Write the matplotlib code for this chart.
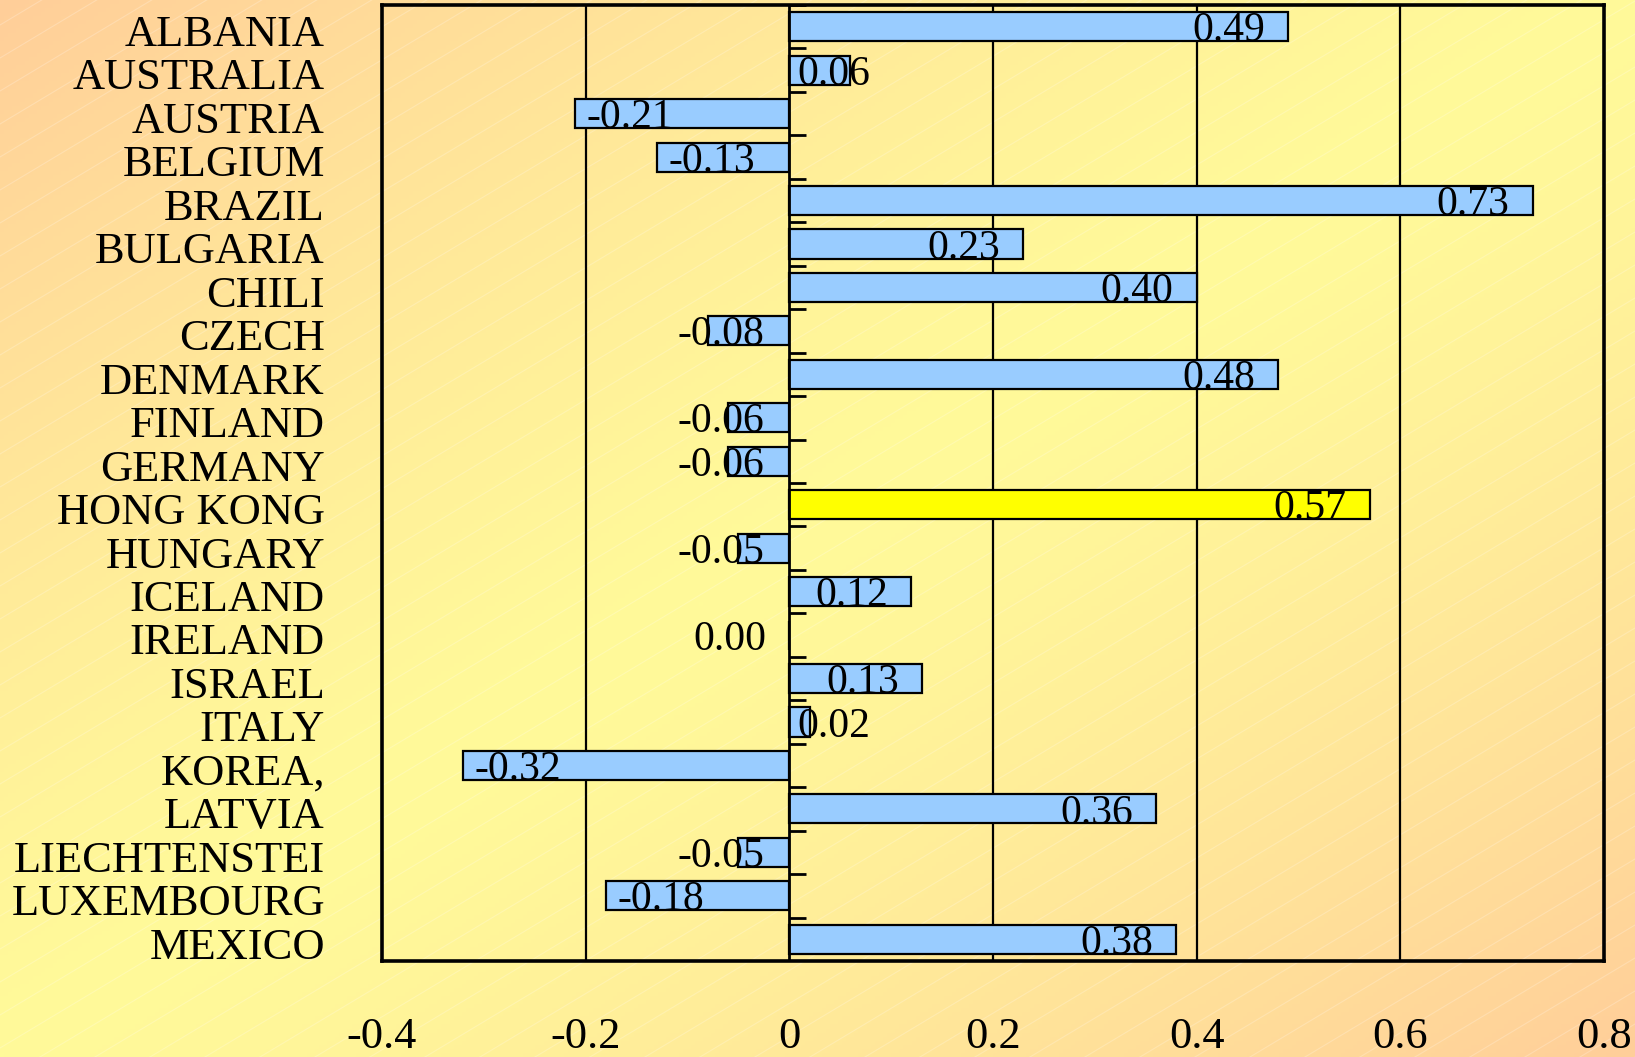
import matplotlib
matplotlib.use("Agg")
import matplotlib.pyplot as plt
from matplotlib.transforms import ScaledTranslation
import numpy as np

countries = ["ALBANIA", "AUSTRALIA", "AUSTRIA", "BELGIUM", "BRAZIL", "BULGARIA",
             "CHILI", "CZECH", "DENMARK", "FINLAND", "GERMANY", "HONG KONG",
             "HUNGARY", "ICELAND", "IRELAND", "ISRAEL", "ITALY", "KOREA,",
             "LATVIA", "LIECHTENSTEI", "LUXEMBOURG", "MEXICO"]
values = [0.49, 0.06, -0.21, -0.13, 0.73, 0.23, 0.40, -0.08, 0.48, -0.06, -0.06,
          0.57, -0.05, 0.12, 0.00, 0.13, 0.02, -0.32, 0.36, -0.05, -0.18, 0.38]
highlight = "HONG KONG"
xticks = [-0.4, -0.2, 0, 0.2, 0.4, 0.6, 0.8]
xtick_labels = ["-0.4", "-0.2", "0", "0.2", "0.4", "0.6", "0.8"]

BAR_COLOR = "#99CCFF"
HL_COLOR = "#FFFF00"
YELLOW = np.array([255, 250, 153]) / 255
ORANGE = np.array([255, 206, 154]) / 255

plt.rcParams["font.family"] = ["Liberation Serif", "DejaVu Serif"]

W, H = 1635, 1057
fig = plt.figure(figsize=(W / 100, H / 100), dpi=100)

# diagonal background gradient: orange at top-left / bottom-right, yellow across the middle
bg = fig.add_axes([0, 0, 1, 1], zorder=-10)
gx, gy = np.meshgrid(np.linspace(0, 1, 400), np.linspace(0, 1, 260))
d = np.abs(gx + gy - 1.0) ** 1.3
img = YELLOW[None, None, :] * (1 - d[..., None]) + ORANGE[None, None, :] * d[..., None]
bg.imshow(img, aspect="auto", extent=[0, W, 0, H], origin="upper")
# faint white diagonal streaks
for c in np.arange(-0.6 * W, H, 33):
    bg.plot([0, W], [c, c + 0.6 * W], color="white", alpha=0.22, linewidth=0.8)
bg.set_xlim(0, W)
bg.set_ylim(0, H)
bg.axis("off")

ax = fig.add_axes([0.2336, 0.0908, 0.981 - 0.2336, 0.9953 - 0.0908])
ax.patch.set_alpha(0)

n = len(countries)
y = np.arange(n)
colors = [HL_COLOR if c == highlight else BAR_COLOR for c in countries]
ax.barh(y, values, height=0.67, color=colors, edgecolor="black", linewidth=1.6, zorder=3)

ax.set_xlim(-0.4, 0.8)
ax.set_ylim(n - 0.5, -0.5)

for g in [-0.2, 0.2, 0.4, 0.6]:
    ax.axvline(g, color="black", linewidth=1.6, zorder=1)
ax.axvline(0, color="black", linewidth=2.0, zorder=4)

# small category ticks on the zero line
for b in np.arange(n + 1) - 0.5:
    ax.plot([0, 0.0167], [b, b], color="black", linewidth=2.0, zorder=4,
            solid_capstyle="butt")

# value labels
for yi, v in zip(y, values):
    if v > 0:
        x, ha = max(v - 0.0225, 0.0799), "right"
    elif v < 0:
        x, ha = min(v + 0.011, -0.1096), "left"
    else:
        x, ha = -0.0225, "right"
    ax.text(x, yi + 0.1, f"{v:.2f}", ha=ha, va="center", fontsize=30, zorder=5)

ax.set_yticks(y)
ax.set_yticklabels(countries, fontsize=32)
ax.set_xticks(xticks)
ax.set_xticklabels(xtick_labels, fontsize=32)
ax.tick_params(axis="y", length=0, pad=41)
ax.tick_params(axis="x", length=0, pad=40)
shift = ScaledTranslation(0, -6 / 72, fig.dpi_scale_trans)
for lab in ax.get_yticklabels():
    lab.set_verticalalignment("center")
    lab.set_transform(lab.get_transform() + shift)

for s in ax.spines.values():
    s.set_linewidth(2.6)
    s.set_zorder(6)

fig.savefig("out.png", dpi=100)
